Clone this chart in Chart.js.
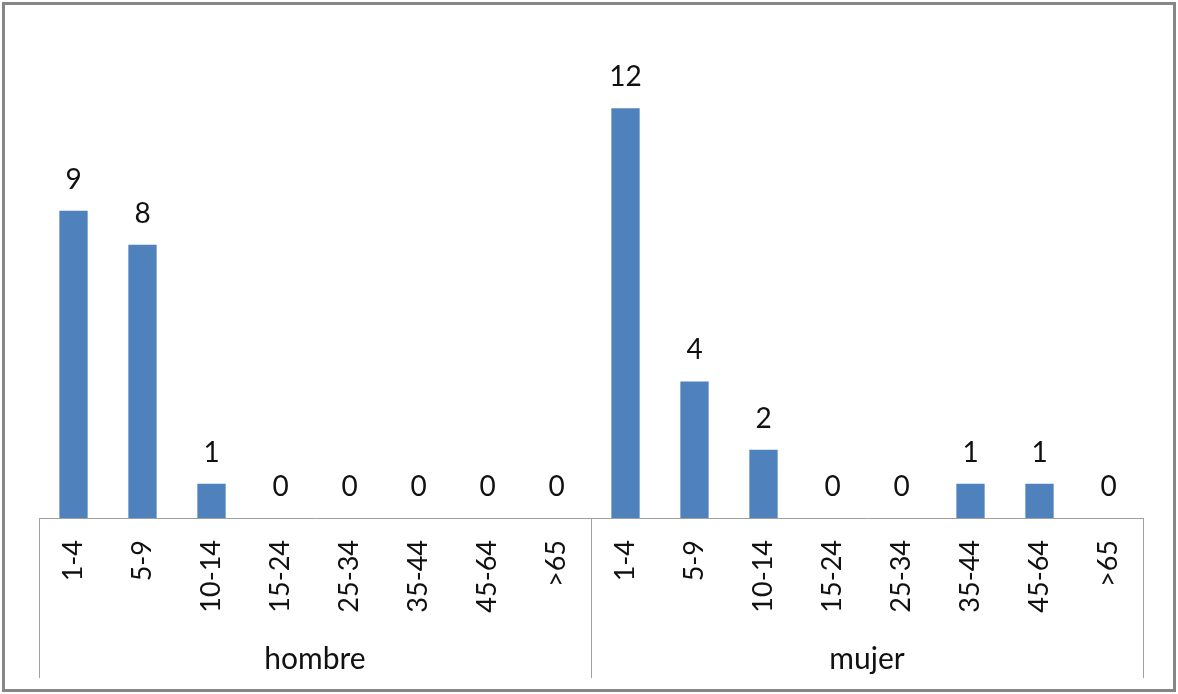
<!DOCTYPE html>
<html>
<head>
<meta charset="utf-8">
<script src="https://cdn.jsdelivr.net/npm/chart.js@4/dist/chart.umd.min.js"></script>
<style>
  html, body { margin: 0; padding: 0; background: #fff; }
  #wrap { width: 1178px; height: 694px; position: relative; }
</style>
</head>
<body>
<div id="wrap"><canvas id="c" width="1178" height="694"></canvas></div>
<script>
// Age bands shared by both groups
const ageGroups = ['1-4', '5-9', '10-14', '15-24', '25-34', '35-44', '45-64', '>65'];
// Group names shown under the age bands
const sexes = ['hombre', 'mujer'];
// Case counts per age band
const hombreCounts = [9, 8, 1, 0, 0, 0, 0, 0];
const mujerCounts = [12, 4, 2, 0, 0, 1, 1, 0];

const labels = sexes.flatMap(() => ageGroups);
const values = hombreCounts.concat(mujerCounts);

const FONT = 'Lato';
const TEXT = '#111111';
const LINE = '#a0a0a0';

// Value labels above each bar
const valueLabels = {
  id: 'valueLabels',
  afterDatasetsDraw(chart) {
    const ctx = chart.ctx;
    const meta = chart.getDatasetMeta(0);
    ctx.save();
    ctx.font = '28px ' + FONT;
    ctx.fillStyle = TEXT;
    ctx.textAlign = 'center';
    ctx.textBaseline = 'alphabetic';
    meta.data.forEach((bar, i) => {
      ctx.fillText(String(values[i]), bar.x, bar.y - 22);
    });
    ctx.restore();
  }
};

// Group separators, group names and the outer frame
const groupAxis = {
  id: 'groupAxis',
  afterDraw(chart) {
    const ctx = chart.ctx;
    const x = chart.scales.x;
    const area = chart.chartArea;
    const per = ageGroups.length;
    const half = (x.getPixelForValue(1) - x.getPixelForValue(0)) / 2;
    ctx.save();
    ctx.strokeStyle = LINE;
    ctx.lineWidth = 1;
    for (let g = 0; g <= sexes.length; g++) {
      const idx = Math.min(g * per, labels.length - 1);
      let px = x.getPixelForValue(idx) + (g * per >= labels.length ? half : -half);
      px = Math.round(px) + 0.5;
      ctx.beginPath();
      ctx.moveTo(px, area.bottom);
      ctx.lineTo(px, 678);
      ctx.stroke();
    }
    ctx.font = '30px ' + FONT;
    ctx.fillStyle = TEXT;
    ctx.textAlign = 'center';
    ctx.textBaseline = 'middle';
    sexes.forEach((s, g) => {
      const a = x.getPixelForValue(g * per) - half;
      const b = x.getPixelForValue(g * per + per - 1) + half;
      ctx.fillText(s, (a + b) / 2, 659);
    });
    ctx.strokeStyle = '#868686';
    ctx.lineWidth = 3;
    ctx.strokeRect(3.5, 3.5, 1171, 687);
    ctx.restore();
  }
};

new Chart(document.getElementById('c'), {
  type: 'bar',
  data: {
    labels: labels,
    datasets: [{
      data: values,
      backgroundColor: '#4F81BD',
      borderWidth: 0,
      categoryPercentage: 1,
      barPercentage: 0.41
    }]
  },
  options: {
    responsive: false,
    animation: false,
    layout: { padding: { left: 39, right: 35, top: 40, bottom: 0 } },
    plugins: { legend: { display: false }, tooltip: { enabled: false } },
    scales: {
      y: { display: false, min: 0, max: 14 },
      x: {
        afterFit(scale) { scale.height = 176; },
        grid: { display: false, drawTicks: false },
        border: { display: true, color: LINE, width: 1 },
        ticks: {
          autoSkip: false,
          minRotation: 90,
          maxRotation: 90,
          padding: 22,
          color: TEXT,
          font: { family: FONT, size: 27 }
        }
      }
    }
  },
  plugins: [valueLabels, groupAxis]
});
</script>
</body>
</html>
